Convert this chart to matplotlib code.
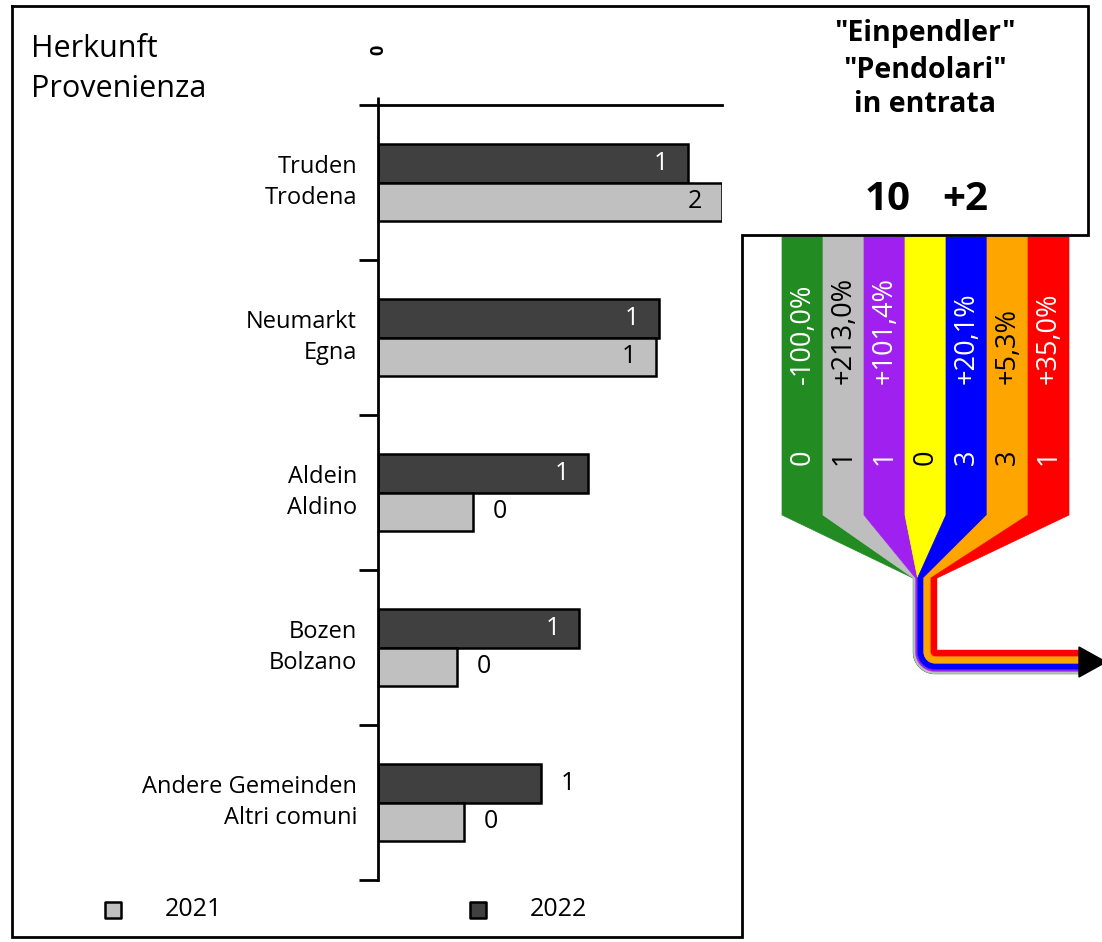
import matplotlib
matplotlib.use('Agg')
import numpy as np
import matplotlib.pyplot as plt
from matplotlib.patches import Polygon

plt.rcParams['font.family'] = ['Open Sans', 'DejaVu Sans']

# bar chart data
categories = ['Truden\nTrodena', 'Neumarkt\nEgna', 'Aldein\nAldino',
              'Bozen\nBolzano', 'Andere Gemeinden\nAltri comuni']
values_2021 = [1.52, 1.23, 0.42, 0.35, 0.38]
values_2022 = [1.37, 1.24, 0.93, 0.89, 0.72]
labels_2021 = ['2', '1', '0', '0', '0']
labels_2022 = ['1', '1', '1', '1', '1']

# flow (right side) data
flow_colors = ['#228B22', '#BEBEBE', '#A020F0', '#FFFF00', '#0000FF', '#FFA500', '#FF0000']
flow_text = ['white', 'black', 'white', 'black', 'white', 'black', 'white']
flow_pct = ['-100,0%', '+213,0%', '+101,4%', '', '+20,1%', '+5,3%', '+35,0%']
flow_count = ['0', '1', '1', '0', '3', '3', '1']
flow_weight = [0.3, 2.2, 2.0, 0.0, 6.0, 7.0, 6.0]
total_in = '10'
total_change = '+2'

LIGHT = '#C0C0C0'
DARK = '#404040'

W, H = 1102, 942
fig = plt.figure(figsize=(W / 100, H / 100), dpi=100)

# overlay in pixel coordinates for frame, titles and flow
ov = fig.add_axes([0, 0, 1, 1])
ov.set_xlim(0, W)
ov.set_ylim(H, 0)
ov.axis('off')

frame = [(12, 6), (1088, 6), (1088, 235), (742, 235), (742, 937), (12, 937), (12, 6)]
ov.plot([p[0] for p in frame], [p[1] for p in frame], color='black', lw=2, solid_joinstyle='miter')

ov.text(31, 69, 'Herkunft\nProvenienza', fontsize=22, ha='left', va='center', linespacing=1.4)

ov.text(925, 33, '"Einpendler"', fontsize=20.5, fontweight='bold', ha='center', va='center')
ov.text(925, 70, '"Pendolari"', fontsize=20.5, fontweight='bold', ha='center', va='center')
ov.text(925, 105, 'in entrata', fontsize=20.5, fontweight='bold', ha='center', va='center')
ov.text(888, 199, total_in, fontsize=29, fontweight='bold', ha='center', va='center')
ov.text(965, 199, total_change, fontsize=29, fontweight='bold', ha='center', va='center')

# legend
ov.scatter([113], [910], marker='s', s=120, color=LIGHT, edgecolor='black', lw=1.8)
ov.scatter([478], [910], marker='s', s=120, color=DARK, edgecolor='black', lw=1.8)
ov.text(165, 909, '2021', fontsize=18, ha='left', va='center')
ov.text(530, 909, '2022', fontsize=18, ha='left', va='center')

# flow stripes
x_left, stripe_w = 782, 41
y_top, y_b, y_conv = 237, 515, 578
x0, bundle_w = 913, 24
R, y_bot, x_end = 22, 674, 1079
widths = np.array(flow_weight) / sum(flow_weight) * bundle_w
offs = np.concatenate([[0], np.cumsum(widths)])

for i, col in enumerate(flow_colors):
    xa, xb = x_left + i * stripe_w, x_left + (i + 1) * stripe_w
    poly = [(xa, y_top), (xb, y_top), (xb, y_b), (x0 + offs[i + 1], y_conv),
            (x0 + offs[i], y_conv), (xa, y_b)]
    ov.add_patch(Polygon(poly, closed=True, facecolor=col, edgecolor=col, lw=0.5))
    xc = (xa + xb) / 2
    if flow_pct[i]:
        ov.text(xc, 384, flow_pct[i], rotation=90, rotation_mode='anchor', ha='left', va='center',
                fontsize=19.5, color=flow_text[i])
    ov.text(xc, 457, flow_count[i], rotation=90, ha='center', va='center', fontsize=19.5,
            color=flow_text[i])


def boundary(d, reverse=False):
    r = R - d
    cxc, cyc = x0 + R, y_bot - R
    pts = [(x0 + d, y_conv)]
    if r > 0:
        t = np.linspace(0, np.pi / 2, 20)
        pts += list(zip(cxc - r * np.cos(t), cyc + r * np.sin(t)))
    else:
        pts.append((x0 + d, y_bot - d))
    pts.append((x_end, y_bot - d))
    return pts[::-1] if reverse else pts


for i, col in enumerate(flow_colors):
    if widths[i] <= 0:
        continue
    poly = boundary(offs[i]) + boundary(offs[i + 1], reverse=True)
    ov.add_patch(Polygon(poly, closed=True, facecolor=col, edgecolor=col, lw=0.3))

ov.add_patch(Polygon([(x_end, y_bot - bundle_w - 3), (x_end, y_bot + 3), (1106, y_bot - bundle_w / 2)],
                     closed=True, facecolor='black', edgecolor='black'))

# bar chart
ax = fig.add_axes([378 / W, 1 - 880 / H, (722 - 378) / W, (880 - 105) / H])
ax.patch.set_alpha(0)
n = len(categories)
pos = np.arange(n) + 0.5
bh = 0.247
ax.barh(pos - bh / 2, values_2022, height=bh, color=DARK, edgecolor='black', lw=1.8)
ax.barh(pos + bh / 2, values_2021, height=bh, color=LIGHT, edgecolor='black', lw=1.8)
xmax = max(values_2021 + values_2022)
ax.set_xlim(0, xmax)
ax.set_ylim(n, 0)

off = 27 / (722 - 378) * xmax
for p, v, lab in zip(pos, values_2022, labels_2022):
    if v > 0.8:
        ax.text(v - off, p - bh / 2, lab, ha='center', va='center', color='white', fontsize=18)
    else:
        ax.text(v + off, p - bh / 2, lab, ha='center', va='center', color='black', fontsize=18)
for p, v, lab in zip(pos, values_2021, labels_2021):
    if v > 0.8:
        ax.text(v - off, p + bh / 2, lab, ha='center', va='center', color='black', fontsize=18)
    else:
        ax.text(v + off, p + bh / 2, lab, ha='center', va='center', color='black', fontsize=18)

for p, cat in zip(pos, categories):
    ax.text(-21 / (722 - 378) * xmax, p, cat, ha='right', va='center', fontsize=17,
            linespacing=1.35)

ax.set_yticks(np.arange(n + 1))
ax.set_yticklabels([])
ax.tick_params(axis='y', direction='out', length=14, width=2)
ax.xaxis.tick_top()
ax.set_xticks([0])
ax.set_xticklabels(['0'], rotation=90, fontsize=13, fontweight='bold')
ax.tick_params(axis='x', direction='out', length=6, width=2, pad=30)
for s in ['right', 'bottom']:
    ax.spines[s].set_visible(False)
ax.spines['left'].set_linewidth(2)
ax.spines['top'].set_linewidth(2)

fig.savefig('out.png', dpi=100)
